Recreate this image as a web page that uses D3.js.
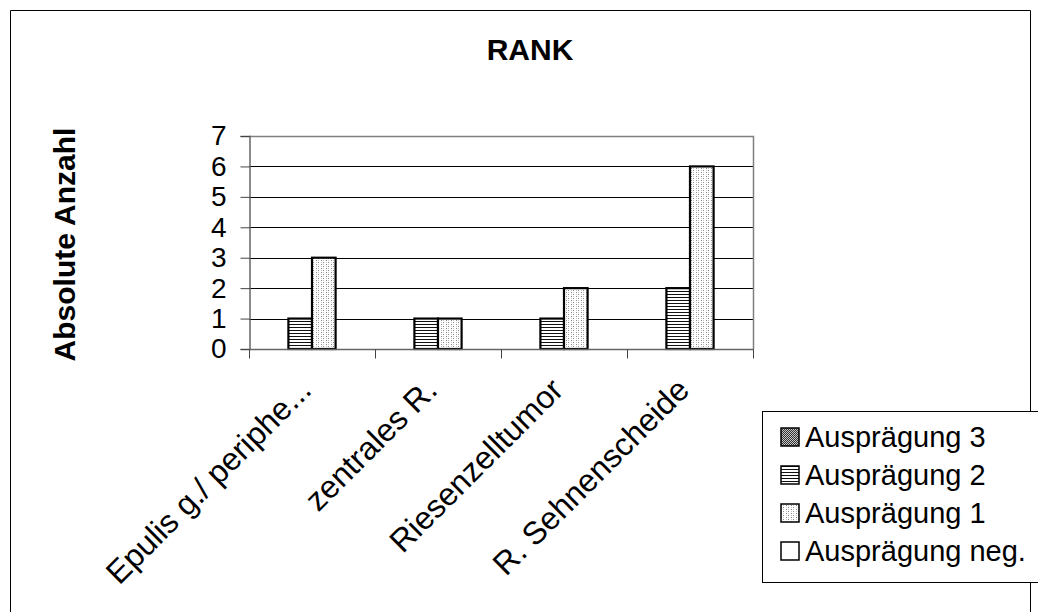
<!DOCTYPE html>
<html><head><meta charset="utf-8">
<script src="https://cdn.jsdelivr.net/npm/d3@7"></script>
<style>
body{margin:0;background:#fff}
svg{display:block}
text{font-family:Arial,"Liberation Sans",sans-serif;fill:#000}
</style>
</head><body>
<svg id="chart" width="1038" height="612"></svg>
<script>
// Chart data
const categories = ["Epulis g./ periphe...", "zentrales R.", "Riesenzelltumor", "R. Sehnenscheide"];
const seriesNames = ["Ausprägung 3", "Ausprägung 2", "Ausprägung 1", "Ausprägung neg."];
const auspraegung3 = [0, 0, 0, 0];
const auspraegung2 = [1, 1, 1, 2];
const auspraegung1 = [3, 1, 2, 6];
const auspraegungNeg = [0, 0, 0, 0];
const yTicks = [0, 1, 2, 3, 4, 5, 6, 7];
const chartTitle = "RANK";
const yAxisTitle = "Absolute Anzahl";

const seriesValues = [auspraegung3, auspraegung2, auspraegung1, auspraegungNeg];
const patternIds = ["pat3", "pat2", "pat1", "patNeg"];

const svg = d3.select("#chart");
const defs = svg.append("defs");

// Fill patterns: dense dark mesh, horizontal lines, light dots, plain white
const p3 = defs.append("pattern").attr("id", "pat3").attr("patternUnits", "userSpaceOnUse")
  .attr("width", 2).attr("height", 2);
p3.append("rect").attr("width", 2).attr("height", 2).attr("fill", "#c8c8c8");
p3.append("rect").attr("width", 1).attr("height", 1).attr("fill", "#333");
p3.append("rect").attr("x", 1).attr("y", 1).attr("width", 1).attr("height", 1).attr("fill", "#333");

const p2 = defs.append("pattern").attr("id", "pat2").attr("patternUnits", "userSpaceOnUse")
  .attr("width", 4).attr("height", 3);
p2.append("rect").attr("width", 4).attr("height", 3).attr("fill", "#fff");
p2.append("rect").attr("width", 4).attr("height", 1).attr("fill", "#111");

const p1 = defs.append("pattern").attr("id", "pat1").attr("patternUnits", "userSpaceOnUse")
  .attr("width", 5).attr("height", 4);
p1.append("rect").attr("width", 5).attr("height", 4).attr("fill", "#fff");
p1.append("rect").attr("x", 1).attr("y", 0).attr("width", 1).attr("height", 1).attr("fill", "#8a8a8a");
p1.append("rect").attr("x", 3).attr("y", 2).attr("width", 1).attr("height", 1).attr("fill", "#8a8a8a");
p1.append("rect").attr("x", 1).attr("y", 2).attr("width", 1).attr("height", 1).attr("fill", "#c8c8c8");
p1.append("rect").attr("x", 3).attr("y", 0).attr("width", 1).attr("height", 1).attr("fill", "#c8c8c8");

const pn = defs.append("pattern").attr("id", "patNeg").attr("patternUnits", "userSpaceOnUse")
  .attr("width", 4).attr("height", 4);
pn.append("rect").attr("width", 4).attr("height", 4).attr("fill", "#fff");

// Outer chart frame
svg.append("path")
  .attr("d", "M10.5,640 V10.5 H1030.5 V640")
  .attr("fill", "none").attr("stroke", "#000").attr("stroke-width", 1);

// Plot area
const plot = { left: 249, right: 753, top: 136, bottom: 349 };

const x0 = d3.scaleBand().domain(categories).range([plot.left, plot.right]).paddingInner(0).paddingOuter(0);
const x1 = d3.scaleBand().domain(seriesNames).range([0, x0.bandwidth()]).paddingInner(0).paddingOuter(0.67);
const y = d3.scaleLinear().domain([0, 7]).range([plot.bottom, plot.top]);

// Horizontal gridlines
svg.append("g").selectAll("line").data(yTicks.filter(t => t > 0 && t < 7)).join("line")
  .attr("x1", plot.left).attr("x2", plot.right)
  .attr("y1", d => Math.round(y(d)) + 0.5).attr("y2", d => Math.round(y(d)) + 0.5)
  .attr("stroke", "#000").attr("stroke-width", 1);

// Plot area border (top and right)
svg.append("path")
  .attr("d", `M${plot.left},${Math.round(y(7)) + 0.5} H${plot.right + 0.5} V${plot.bottom}`)
  .attr("fill", "none").attr("stroke", "#808080").attr("stroke-width", 1.5);

// Bars
const barData = [];
categories.forEach((c, ci) => {
  seriesNames.forEach((s, si) => {
    barData.push({ cat: c, series: s, value: seriesValues[si][ci], pat: patternIds[si] });
  });
});

svg.append("g").selectAll("rect").data(barData.filter(d => d.value > 0)).join("rect")
  .attr("x", d => x0(d.cat) + x1(d.series))
  .attr("y", d => y(d.value))
  .attr("width", x1.bandwidth())
  .attr("height", d => y(0) - y(d.value))
  .attr("fill", d => `url(#${d.pat})`)
  .attr("stroke", "#000").attr("stroke-width", 2.2);

// Y axis
const yAxis = svg.append("g").attr("transform", `translate(${plot.left + 0.5},0)`)
  .call(d3.axisLeft(y).tickValues(yTicks).tickSize(9).tickPadding(14).tickFormat(d3.format("d")));
yAxis.select(".domain").attr("stroke", "#666").attr("stroke-width", 1.5);
yAxis.selectAll(".tick line").attr("stroke", "#444");
yAxis.selectAll(".tick text").attr("font-size", 28).attr("font-family", "Arial, 'Liberation Sans', sans-serif");

// X axis with ticks at category boundaries
const xAxisG = svg.append("g").attr("transform", `translate(0,${plot.bottom + 0.5})`);
xAxisG.append("line").attr("x1", plot.left).attr("x2", plot.right + 1)
  .attr("stroke", "#666").attr("stroke-width", 1.5);
const boundaries = categories.map(c => x0(c)).concat([x0(categories[categories.length - 1]) + x0.bandwidth()]);
xAxisG.selectAll("line.tk").data(boundaries).join("line").attr("class", "tk")
  .attr("x1", d => Math.round(d) + 0.5).attr("x2", d => Math.round(d) + 0.5)
  .attr("y1", 0).attr("y2", 9).attr("stroke", "#444");

// Rotated category labels
svg.append("g").selectAll("text").data(categories).join("text")
  .attr("transform", d => `translate(${x0(d) + x0.bandwidth() / 2 + 1},392) rotate(-45)`)
  .attr("text-anchor", "end")
  .attr("font-size", 32)
  .text(d => d);

// Title
svg.append("text").attr("x", 530).attr("y", 60).attr("text-anchor", "middle")
  .attr("font-size", 30).attr("font-weight", "bold").text(chartTitle);

// Y axis title
svg.append("text").attr("transform", `translate(75,${(plot.top + plot.bottom) / 2 + 2}) rotate(-90)`)
  .attr("text-anchor", "middle").attr("font-size", 30).attr("font-weight", "bold").text(yAxisTitle);

// Legend
const legend = svg.append("g");
legend.append("rect").attr("x", 762.5).attr("y", 411.5).attr("width", 300).attr("height", 171)
  .attr("fill", "#fff").attr("stroke", "#000").attr("stroke-width", 1);
const rowY = [437, 475, 513, 551];
const items = legend.selectAll("g.item").data(seriesNames).join("g").attr("class", "item")
  .attr("transform", (d, i) => `translate(0,${rowY[i]})`);
items.append("rect").attr("x", 781).attr("y", -9).attr("width", 18).attr("height", 18)
  .attr("fill", (d, i) => `url(#${patternIds[i]})`).attr("stroke", "#000").attr("stroke-width", 1.5);
items.append("text").attr("x", 805).attr("y", 0).attr("dy", "0.35em")
  .attr("font-size", 29).text(d => d);
</script>
</body></html>
